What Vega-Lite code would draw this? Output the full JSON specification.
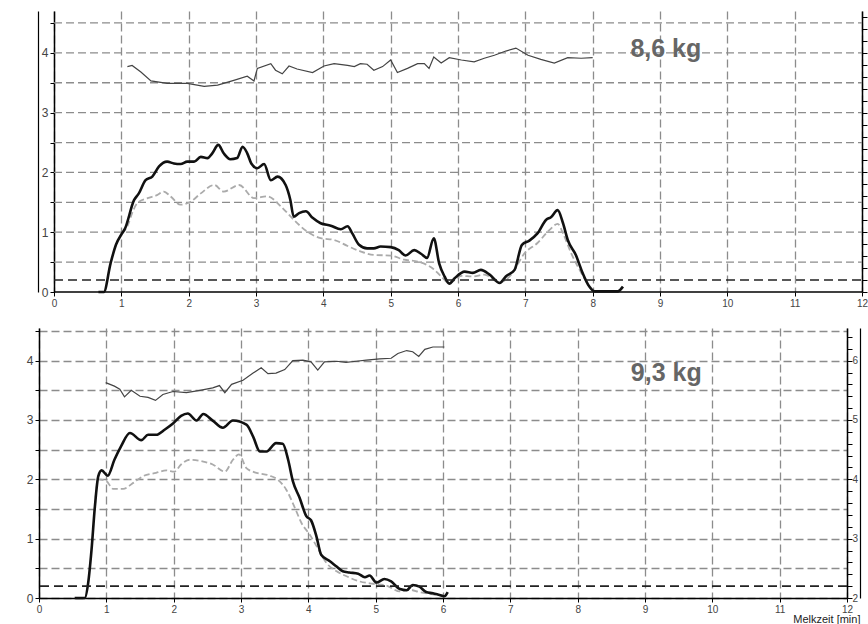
{
  "$schema": "https://vega.github.io/schema/vega-lite/v6.json",
  "padding": {"top": 11, "left": 0, "right": 0, "bottom": 0},
  "spacing": 16,
  "config": {
    "font": "Liberation Sans",
    "view": {"stroke": null},
    "axis": {
      "labelOverlap": false,
      "labelFlush": false,
      "labelBound": false,
      "domainColor": "#000",
      "domainWidth": 1.5,
      "tickColor": "#000",
      "tickWidth": 1,
      "tickSize": 4,
      "labelColor": "#444",
      "gridColor": "#8c8c8c",
      "gridDash": [8, 4],
      "gridWidth": 1.3,
      "title": null
    }
  },
  "datasets": {
    "topGrid": [{"g":0.5},{"g":1},{"g":1.5},{"g":2},{"g":2.5},{"g":3},{"g":3.5},{"g":4},{"g":4.5}],
    "topFlow": [
      {"t":0.66,"v":0},{"t":0.74,"v":0},{"t":0.84,"v":0.48},{"t":0.92,"v":0.79},{"t":1.01,"v":0.98},{"t":1.05,"v":1.05},{"t":1.19,"v":1.54},{"t":1.26,"v":1.65},{"t":1.36,"v":1.87},{"t":1.46,"v":1.93},{"t":1.56,"v":2.10},{"t":1.68,"v":2.18},{"t":1.78,"v":2.15},{"t":1.88,"v":2.14},{"t":1.98,"v":2.18},{"t":2.08,"v":2.18},{"t":2.18,"v":2.26},{"t":2.28,"v":2.24},{"t":2.35,"v":2.32},{"t":2.44,"v":2.46},{"t":2.52,"v":2.32},{"t":2.62,"v":2.22},{"t":2.72,"v":2.24},{"t":2.80,"v":2.43},{"t":2.87,"v":2.32},{"t":2.93,"v":2.15},{"t":3.02,"v":2.07},{"t":3.12,"v":2.14},{"t":3.22,"v":1.87},{"t":3.32,"v":1.93},{"t":3.44,"v":1.79},{"t":3.51,"v":1.54},{"t":3.56,"v":1.26},{"t":3.64,"v":1.32},{"t":3.74,"v":1.35},{"t":3.84,"v":1.24},{"t":3.96,"v":1.15},{"t":4.11,"v":1.11},{"t":4.26,"v":1.05},{"t":4.36,"v":1.10},{"t":4.43,"v":0.98},{"t":4.53,"v":0.79},{"t":4.65,"v":0.73},{"t":4.75,"v":0.73},{"t":4.85,"v":0.76},{"t":5.0,"v":0.75},{"t":5.12,"v":0.70},{"t":5.22,"v":0.61},{"t":5.35,"v":0.70},{"t":5.45,"v":0.64},{"t":5.54,"v":0.57},{"t":5.64,"v":0.90},{"t":5.72,"v":0.48},{"t":5.80,"v":0.26},{"t":5.87,"v":0.14},{"t":5.95,"v":0.23},{"t":6.10,"v":0.34},{"t":6.22,"v":0.32},{"t":6.34,"v":0.37},{"t":6.47,"v":0.29},{"t":6.62,"v":0.15},{"t":6.71,"v":0.26},{"t":6.84,"v":0.37},{"t":6.95,"v":0.79},{"t":7.06,"v":0.86},{"t":7.18,"v":0.98},{"t":7.31,"v":1.21},{"t":7.38,"v":1.25},{"t":7.48,"v":1.37},{"t":7.56,"v":1.15},{"t":7.63,"v":0.87},{"t":7.75,"v":0.62},{"t":7.85,"v":0.32},{"t":7.95,"v":0.09},{"t":8.03,"v":0.01},{"t":8.37,"v":0.01},{"t":8.45,"v":0.09}
    ],
    "topGray": [
      {"t":1.01,"v":0.98},{"t":1.09,"v":1.1},{"t":1.16,"v":1.32},{"t":1.24,"v":1.49},{"t":1.39,"v":1.57},{"t":1.53,"v":1.62},{"t":1.63,"v":1.68},{"t":1.73,"v":1.60},{"t":1.88,"v":1.46},{"t":2.03,"v":1.51},{"t":2.18,"v":1.65},{"t":2.38,"v":1.79},{"t":2.52,"v":1.68},{"t":2.75,"v":1.79},{"t":2.97,"v":1.57},{"t":3.17,"v":1.60},{"t":3.37,"v":1.43},{"t":3.56,"v":1.21},{"t":3.76,"v":1.01},{"t":3.96,"v":0.90},{"t":4.16,"v":0.87},{"t":4.36,"v":0.77},{"t":4.55,"v":0.68},{"t":4.75,"v":0.62},{"t":5.0,"v":0.61},{"t":5.20,"v":0.54},{"t":5.40,"v":0.51},{"t":5.64,"v":0.38},{"t":5.75,"v":0.26},{"t":5.87,"v":0.15},{"t":6.05,"v":0.27},{"t":6.22,"v":0.26},{"t":6.39,"v":0.29},{"t":6.62,"v":0.16},{"t":6.79,"v":0.29},{"t":6.99,"v":0.65},{"t":7.18,"v":0.82},{"t":7.36,"v":1.04},{"t":7.48,"v":1.14},{"t":7.56,"v":0.98},{"t":7.68,"v":0.65},{"t":7.83,"v":0.32},{"t":7.95,"v":0.09}
    ],
    "topCond": [
      {"t":1.09,"c":5.77},{"t":1.16,"c":5.79},{"t":1.29,"c":5.68},{"t":1.44,"c":5.53},{"t":1.68,"c":5.49},{"t":1.98,"c":5.49},{"t":2.23,"c":5.44},{"t":2.43,"c":5.46},{"t":2.67,"c":5.54},{"t":2.87,"c":5.61},{"t":2.97,"c":5.53},{"t":3.02,"c":5.74},{"t":3.22,"c":5.82},{"t":3.29,"c":5.71},{"t":3.39,"c":5.65},{"t":3.49,"c":5.78},{"t":3.61,"c":5.73},{"t":3.84,"c":5.67},{"t":4.01,"c":5.78},{"t":4.16,"c":5.82},{"t":4.36,"c":5.79},{"t":4.46,"c":5.77},{"t":4.55,"c":5.82},{"t":4.65,"c":5.81},{"t":4.75,"c":5.71},{"t":4.88,"c":5.77},{"t":5.0,"c":5.88},{"t":5.10,"c":5.67},{"t":5.25,"c":5.74},{"t":5.40,"c":5.82},{"t":5.50,"c":5.82},{"t":5.57,"c":5.74},{"t":5.64,"c":5.93},{"t":5.75,"c":5.83},{"t":5.87,"c":5.92},{"t":6.05,"c":5.88},{"t":6.24,"c":5.85},{"t":6.39,"c":5.91},{"t":6.54,"c":5.96},{"t":6.71,"c":6.03},{"t":6.86,"c":6.08},{"t":7.04,"c":5.96},{"t":7.23,"c":5.89},{"t":7.43,"c":5.83},{"t":7.63,"c":5.92},{"t":7.83,"c":5.91},{"t":8.0,"c":5.92}
    ],
    "topLabel": [{"t":8.56,"v":3.93,"label":"8,6 kg"}],
    "bottomFlow": [
      {"t":0.53,"v":0},{"t":0.68,"v":0},{"t":0.73,"v":0.25},{"t":0.78,"v":0.81},{"t":0.83,"v":1.54},{"t":0.88,"v":2.05},{"t":0.93,"v":2.15},{"t":1.02,"v":2.06},{"t":1.12,"v":2.33},{"t":1.22,"v":2.56},{"t":1.35,"v":2.78},{"t":1.52,"v":2.66},{"t":1.62,"v":2.75},{"t":1.74,"v":2.75},{"t":1.87,"v":2.84},{"t":1.99,"v":2.94},{"t":2.11,"v":3.07},{"t":2.21,"v":3.11},{"t":2.34,"v":2.99},{"t":2.44,"v":3.10},{"t":2.58,"v":2.99},{"t":2.73,"v":2.87},{"t":2.88,"v":2.99},{"t":3.08,"v":2.92},{"t":3.18,"v":2.72},{"t":3.28,"v":2.47},{"t":3.38,"v":2.47},{"t":3.52,"v":2.61},{"t":3.62,"v":2.60},{"t":3.70,"v":2.33},{"t":3.77,"v":1.97},{"t":3.87,"v":1.69},{"t":3.97,"v":1.38},{"t":4.04,"v":1.31},{"t":4.12,"v":1.04},{"t":4.19,"v":0.73},{"t":4.32,"v":0.62},{"t":4.42,"v":0.53},{"t":4.51,"v":0.45},{"t":4.61,"v":0.43},{"t":4.74,"v":0.41},{"t":4.84,"v":0.35},{"t":4.91,"v":0.38},{"t":5.01,"v":0.26},{"t":5.13,"v":0.32},{"t":5.23,"v":0.28},{"t":5.36,"v":0.15},{"t":5.46,"v":0.13},{"t":5.55,"v":0.22},{"t":5.65,"v":0.19},{"t":5.75,"v":0.10},{"t":5.85,"v":0.08},{"t":5.95,"v":0.05},{"t":6.02,"v":0.03},{"t":6.07,"v":0.10}
    ],
    "bottomGray": [
      {"t":0.83,"v":1.54},{"t":0.88,"v":2.0},{"t":1.0,"v":1.97},{"t":1.10,"v":1.84},{"t":1.25,"v":1.84},{"t":1.40,"v":1.94},{"t":1.54,"v":2.05},{"t":1.74,"v":2.11},{"t":1.89,"v":2.15},{"t":2.01,"v":2.13},{"t":2.11,"v":2.25},{"t":2.24,"v":2.33},{"t":2.44,"v":2.30},{"t":2.58,"v":2.25},{"t":2.76,"v":2.13},{"t":2.88,"v":2.33},{"t":2.97,"v":2.42},{"t":3.08,"v":2.19},{"t":3.23,"v":2.11},{"t":3.43,"v":2.06},{"t":3.55,"v":1.99},{"t":3.67,"v":1.83},{"t":3.80,"v":1.52},{"t":3.90,"v":1.26},{"t":4.02,"v":1.07},{"t":4.14,"v":0.84},{"t":4.27,"v":0.59},{"t":4.42,"v":0.45},{"t":4.56,"v":0.37},{"t":4.76,"v":0.28},{"t":4.96,"v":0.24},{"t":5.16,"v":0.21},{"t":5.36,"v":0.11},{"t":5.50,"v":0.14},{"t":5.65,"v":0.10},{"t":5.85,"v":0.06},{"t":6.02,"v":0.04}
    ],
    "bottomCond": [
      {"t":0.99,"c":5.63},{"t":1.12,"c":5.57},{"t":1.20,"c":5.52},{"t":1.27,"c":5.39},{"t":1.37,"c":5.50},{"t":1.50,"c":5.40},{"t":1.62,"c":5.38},{"t":1.73,"c":5.33},{"t":1.84,"c":5.43},{"t":1.99,"c":5.48},{"t":2.19,"c":5.46},{"t":2.39,"c":5.50},{"t":2.58,"c":5.54},{"t":2.68,"c":5.58},{"t":2.76,"c":5.46},{"t":2.86,"c":5.60},{"t":3.03,"c":5.67},{"t":3.18,"c":5.79},{"t":3.30,"c":5.88},{"t":3.40,"c":5.78},{"t":3.52,"c":5.79},{"t":3.65,"c":5.85},{"t":3.77,"c":6.0},{"t":3.92,"c":6.01},{"t":4.04,"c":5.98},{"t":4.14,"c":5.84},{"t":4.24,"c":5.98},{"t":4.42,"c":5.99},{"t":4.56,"c":5.97},{"t":4.71,"c":5.99},{"t":4.86,"c":6.01},{"t":5.06,"c":6.03},{"t":5.23,"c":6.04},{"t":5.33,"c":6.12},{"t":5.46,"c":6.17},{"t":5.55,"c":6.15},{"t":5.64,"c":6.07},{"t":5.73,"c":6.19},{"t":5.85,"c":6.23},{"t":6.02,"c":6.23}
    ],
    "bottomLabel": [{"t":8.79,"v":3.66,"label":"9,3 kg"}]
  },
  "vconcat": [
    {
      "width": 823,
      "height": 281,
      "layer": [
        {
          "layer": [
            {
              "data": {"name": "topGrid"},
              "mark": {"type": "rule", "color": "#8c8c8c", "strokeWidth": 1.3, "strokeDash": [8, 4]},
              "encoding": {
                "x": {"datum": 0, "type": "quantitative", "scale": {"domain": [-0.2229, 12], "nice": false, "zero": false},
                  "axis": {"values": [0,0.5,1,1.5,2,2.5,3,3.5,4,4.5,5,5.5,6,6.5,7,7.5,8,8.5,9,9.5,10,10.5,11,11.5,12],
                    "labelExpr": "datum.value % 1 === 0 ? '' + datum.value : ''", "grid": true, "domain": false,
                    "labelFontSize": 10, "labelPadding": 2}},
                "x2": {"datum": 12},
                "y": {"field": "g", "type": "quantitative", "scale": {"domain": [0, 4.7], "nice": false},
                  "axis": {"values": [0,0.5,1,1.5,2,2.5,3,3.5,4,4.5], "labelExpr": "datum.value % 1 === 0 ? '' + datum.value : ''",
                    "grid": false, "offset": -15, "labelFontSize": 12, "labelPadding": 2}}
              }
            },
            {
              "data": {"values": [{}]},
              "mark": {"type": "rule", "color": "#000", "strokeWidth": 1.5},
              "encoding": {
                "x": {"datum": 0, "type": "quantitative"},
                "x2": {"datum": 12},
                "y": {"datum": 0, "type": "quantitative", "axis": null}
              }
            },
            {
              "data": {"name": "topGray"},
              "mark": {"type": "line", "color": "#ababab", "strokeWidth": 1.8, "strokeDash": [6, 3], "interpolate": "monotone"},
              "encoding": {
                "x": {"field": "t", "type": "quantitative"},
                "y": {"field": "v", "type": "quantitative", "axis": null}
              }
            },
            {
              "data": {"name": "topFlow"},
              "mark": {"type": "line", "color": "#111", "strokeWidth": 2.6, "interpolate": "monotone"},
              "encoding": {
                "x": {"field": "t", "type": "quantitative"},
                "y": {"field": "v", "type": "quantitative", "axis": null}
              }
            },
            {
              "data": {"values": [{}]},
              "mark": {"type": "rule", "color": "#222", "strokeWidth": 1.6, "strokeDash": [9, 5]},
              "encoding": {
                "x": {"datum": 0, "type": "quantitative"},
                "x2": {"datum": 12},
                "y": {"datum": 0.2, "type": "quantitative",
                  "axis": {"orient": "left", "offset": 1, "labels": false, "ticks": false, "grid": false, "domainWidth": 1.2}}
              }
            },
            {
              "data": {"name": "topLabel"},
              "mark": {"type": "text", "align": "left", "baseline": "alphabetic", "fontSize": 25, "fontWeight": "bold", "color": "#666"},
              "encoding": {
                "x": {"field": "t", "type": "quantitative"},
                "y": {"field": "v", "type": "quantitative", "axis": null},
                "text": {"field": "label"}
              }
            }
          ],
          "resolve": {"axis": {"y": "independent"}}
        },
        {
          "data": {"name": "topCond"},
          "mark": {"type": "line", "color": "#444", "strokeWidth": 1.2},
          "encoding": {
            "x": {"field": "t", "type": "quantitative"},
            "y": {"field": "c", "type": "quantitative", "scale": {"domain": [2, 6.7], "nice": false},
              "axis": {"orient": "right", "values": [2,2.2,2.4,2.6,2.8,3,3.2,3.4,3.6,3.8,4,4.2,4.4,4.6,4.8,5,5.2,5.4,5.6,5.8,6,6.2,6.4,6.6],
                "labels": false, "grid": false, "tickSize": 5}}
          }
        }
      ],
      "resolve": {"scale": {"y": "independent"}}
    },
    {
      "width": 808,
      "height": 270,
      "layer": [
        {
          "layer": [
            {
              "data": {"name": "bottomGray"},
              "mark": {"type": "line", "color": "#ababab", "strokeWidth": 1.8, "strokeDash": [6, 3], "interpolate": "monotone"},
              "encoding": {
                "x": {"field": "t", "type": "quantitative", "scale": {"domain": [0, 12], "nice": false},
                  "axis": {"values": [0,0.5,1,1.5,2,2.5,3,3.5,4,4.5,5,5.5,6,6.5,7,7.5,8,8.5,9,9.5,10,10.5,11,11.5,12],
                    "labelExpr": "datum.value % 1 === 0 ? '' + datum.value : ''", "grid": true, "labelFontSize": 10, "labelPadding": 2,
                    "title": "Melkzeit [min]", "titleFontSize": 11, "titleFontWeight": "normal", "titleColor": "#222",
                    "titleAlign": "right", "titleBaseline": "bottom", "titleX": 821, "titleY": 26}},
                "y": {"field": "v", "type": "quantitative", "scale": {"domain": [0, 4.55], "nice": false},
                  "axis": {"values": [0,0.5,1,1.5,2,2.5,3,3.5,4,4.5], "labelExpr": "datum.value % 1 === 0 ? '' + datum.value : ''",
                    "grid": true, "labelFontSize": 12, "labelPadding": 2, "minExtent": 39}}
              }
            },
            {
              "data": {"name": "bottomFlow"},
              "mark": {"type": "line", "color": "#111", "strokeWidth": 2.6, "interpolate": "monotone"},
              "encoding": {
                "x": {"field": "t", "type": "quantitative"},
                "y": {"field": "v", "type": "quantitative", "axis": null}
              }
            },
            {
              "data": {"values": [{}]},
              "mark": {"type": "rule", "color": "#222", "strokeWidth": 1.6, "strokeDash": [9, 5]},
              "encoding": {
                "y": {"datum": 0.2, "type": "quantitative",
                  "axis": {"orient": "right", "offset": 13, "labels": false, "ticks": false, "grid": false, "domainWidth": 1.2}}
              }
            },
            {
              "data": {"name": "bottomLabel"},
              "mark": {"type": "text", "align": "left", "baseline": "alphabetic", "fontSize": 25, "fontWeight": "bold", "color": "#666"},
              "encoding": {
                "x": {"field": "t", "type": "quantitative"},
                "y": {"field": "v", "type": "quantitative", "axis": null},
                "text": {"field": "label"}
              }
            }
          ],
          "resolve": {"axis": {"y": "independent"}}
        },
        {
          "data": {"name": "bottomCond"},
          "mark": {"type": "line", "color": "#444", "strokeWidth": 1.2},
          "encoding": {
            "x": {"field": "t", "type": "quantitative"},
            "y": {"field": "c", "type": "quantitative", "scale": {"domain": [2, 6.55], "nice": false},
              "axis": {"orient": "right", "values": [2,2.2,2.4,2.6,2.8,3,3.2,3.4,3.6,3.8,4,4.2,4.4,4.6,4.8,5,5.2,5.4,5.6,5.8,6,6.2,6.4],
                "labelExpr": "datum.value % 1 === 0 ? '' + datum.value : ''", "grid": false, "tickSize": 5, "labelPadding": 0, "labelFontSize": 10}}
          }
        }
      ],
      "resolve": {"scale": {"y": "independent"}}
    }
  ]
}
